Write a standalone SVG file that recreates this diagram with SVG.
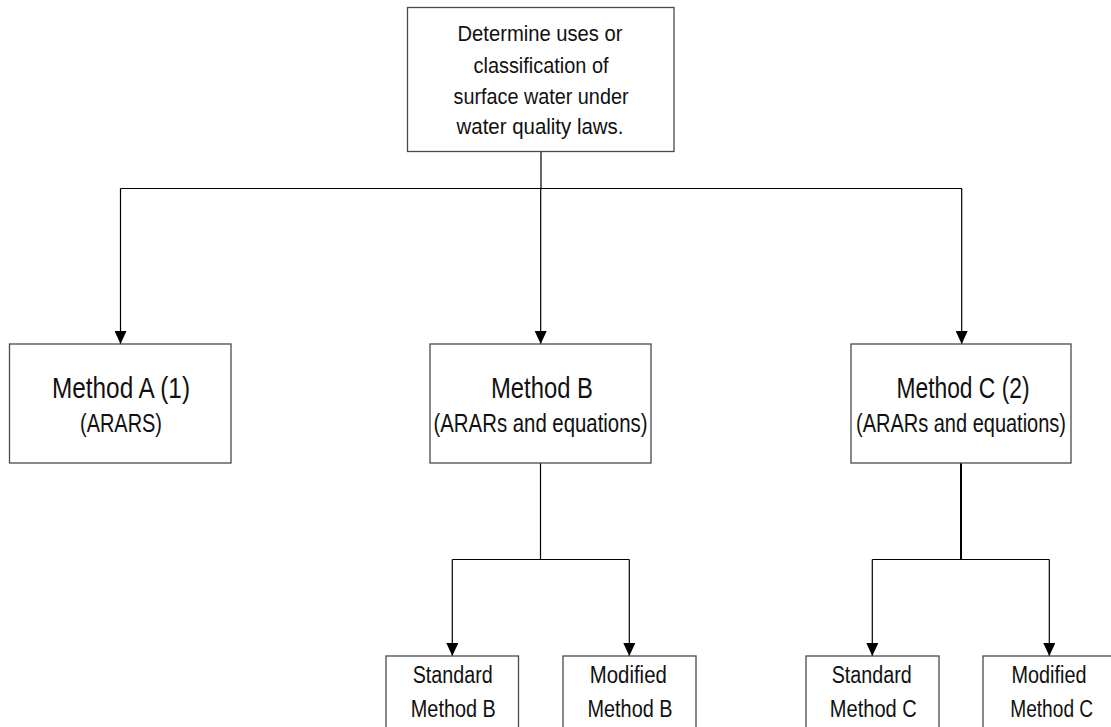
<svg xmlns="http://www.w3.org/2000/svg" width="1111" height="727" viewBox="0 0 1111 727">
<style>
.box{fill:#fff;stroke:#4a4a4a;stroke-width:1.3}
.t{font-family:"Liberation Sans Narrow","Liberation Sans",Arial,sans-serif;fill:#111;text-anchor:middle}
.s22{font-size:22px}
.s23{font-size:23px}
.s30{font-size:30px}
.s25{font-size:25px}
.c{stroke:#000;stroke-width:1.2;fill:none}
</style>
<defs>
<marker id="ah" markerUnits="userSpaceOnUse" markerWidth="13" markerHeight="12" refX="13" refY="6" orient="auto">
<path d="M0,0 L13,6 L0,12 z" fill="#000"/>
</marker>
</defs>
<rect width="1111" height="727" fill="#fff"/>
<g id="connectors">
<line class="c" x1="541" y1="152" x2="541" y2="188.5"/>
<line class="c" x1="120.5" y1="188.5" x2="962" y2="188.5"/>
<line class="c" x1="120.5" y1="188.5" x2="120.5" y2="344" marker-end="url(#ah)"/>
<line class="c" x1="540.7" y1="188.5" x2="540.7" y2="344" marker-end="url(#ah)"/>
<line class="c" x1="961.7" y1="188.5" x2="961.7" y2="344" marker-end="url(#ah)"/>
<line class="c" x1="540.5" y1="463" x2="540.5" y2="559.5"/>
<line class="c" x1="452.3" y1="559.5" x2="629.3" y2="559.5"/>
<line class="c" x1="452.3" y1="559.5" x2="452.3" y2="656" marker-end="url(#ah)"/>
<line class="c" x1="629.3" y1="559.5" x2="629.3" y2="656" marker-end="url(#ah)"/>
<line class="c" x1="961" y1="463" x2="961" y2="559.5" style="stroke-width:2"/>
<line class="c" x1="872.3" y1="559.5" x2="1049.3" y2="559.5"/>
<line class="c" x1="872.3" y1="559.5" x2="872.3" y2="656" marker-end="url(#ah)"/>
<line class="c" x1="1049.3" y1="559.5" x2="1049.3" y2="656" marker-end="url(#ah)"/>
</g>
<g id="node-top">
<rect class="box" x="407.5" y="7.5" width="266.5" height="144"/>
<text class="t s22" x="540" y="41" textLength="165" lengthAdjust="spacingAndGlyphs">Determine uses or</text>
<text class="t s22" x="541" y="72.5" textLength="135" lengthAdjust="spacingAndGlyphs">classification of</text>
<text class="t s22" x="541" y="104" textLength="175" lengthAdjust="spacingAndGlyphs">surface water under</text>
<text class="t s22" x="540" y="134" textLength="167" lengthAdjust="spacingAndGlyphs">water quality laws.</text>
</g>
<g id="node-method-a">
<rect class="box" x="9.5" y="344" width="221.5" height="119"/>
<text class="t s30" x="121" y="398" textLength="138" lengthAdjust="spacingAndGlyphs">Method A (1)</text>
<text class="t s25" x="121" y="432" textLength="82" lengthAdjust="spacingAndGlyphs">(ARARS)</text>
</g>
<g id="node-method-b">
<rect class="box" x="430" y="344" width="221" height="119"/>
<text class="t s30" x="542" y="398" textLength="102" lengthAdjust="spacingAndGlyphs">Method B</text>
<text class="t s25" x="540.5" y="432" textLength="214" lengthAdjust="spacingAndGlyphs">(ARARs and equations)</text>
</g>
<g id="node-method-c">
<rect class="box" x="851" y="344" width="220" height="119"/>
<text class="t s30" x="963" y="398" textLength="133" lengthAdjust="spacingAndGlyphs">Method C (2)</text>
<text class="t s25" x="961" y="432" textLength="210" lengthAdjust="spacingAndGlyphs">(ARARs and equations)</text>
</g>
<g id="node-standard-b">
<rect class="box" x="386" y="656" width="132.5" height="100"/>
<text class="t s23" x="452.7" y="683.3" textLength="80" lengthAdjust="spacingAndGlyphs">Standard</text>
<text class="t s23" x="453.3" y="716.7" textLength="85" lengthAdjust="spacingAndGlyphs">Method B</text>
</g>
<g id="node-modified-b">
<rect class="box" x="563" y="656" width="133" height="100"/>
<text class="t s23" x="628.3" y="683.3" textLength="77" lengthAdjust="spacingAndGlyphs">Modified</text>
<text class="t s23" x="630" y="716.7" textLength="85" lengthAdjust="spacingAndGlyphs">Method B</text>
</g>
<g id="node-standard-c">
<rect class="box" x="806" y="656" width="133" height="100"/>
<text class="t s23" x="871.7" y="683.3" textLength="80" lengthAdjust="spacingAndGlyphs">Standard</text>
<text class="t s23" x="873.3" y="716.7" textLength="87" lengthAdjust="spacingAndGlyphs">Method C</text>
</g>
<g id="node-modified-c">
<rect class="box" x="983" y="656" width="133" height="100"/>
<text class="t s23" x="1049" y="683.3" textLength="75" lengthAdjust="spacingAndGlyphs">Modified</text>
<text class="t s23" x="1051.7" y="716.7" textLength="83" lengthAdjust="spacingAndGlyphs">Method C</text>
</g>
</svg>
